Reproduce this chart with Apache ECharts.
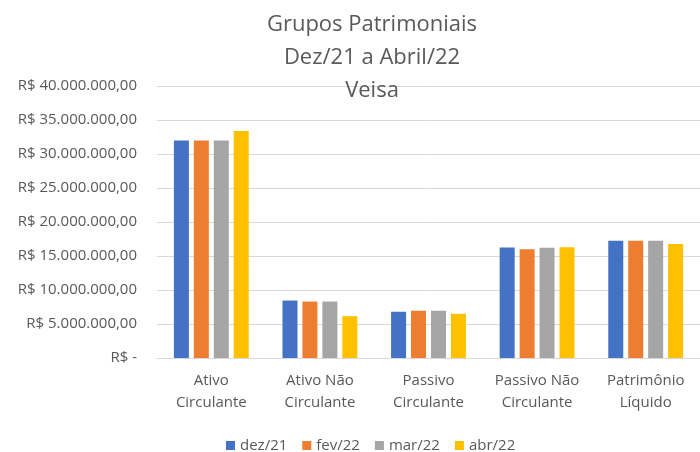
<!DOCTYPE html>
<html>
<head>
<meta charset="utf-8">
<script src="https://cdn.jsdelivr.net/npm/echarts@6/dist/echarts.min.js"></script>
<style>
  html, body { margin: 0; padding: 0; background: #fff; }
  #chart { width: 700px; height: 452px; }
</style>
</head>
<body>
<div id="chart"></div>
<script>
// categorias e valores (R$)
const categories = ['Ativo Circulante', 'Ativo Não Circulante', 'Passivo Circulante', 'Passivo Não Circulante', 'Patrimônio Líquido']
const dez21 = [32000000, 8450000, 6800000, 16250000, 17250000]
const fev22 = [32000000, 8300000, 6950000, 16000000, 17250000]
const mar22 = [32000000, 8300000, 6950000, 16200000, 17250000]
const abr22 = [33400000, 6150000, 6500000, 16300000, 16750000]
const seriesNames = ['dez/21', 'fev/22', 'mar/22', 'abr/22']
const colors = ['#4472C4', '#ED7D31', '#A5A5A5', '#FFC000']

const font = 'Open Sans'
const textColor = '#595959'

// formato contábil brasileiro
const fmtBRL = v => {
  if (v === 0) return 'R$ -'
  const s = Math.round(v).toString().replace(/\B(?=(\d{3})+(?!\d))/g, '.')
  return 'R$ ' + s + ',00'
}

const chart = echarts.init(document.getElementById('chart'))
chart.setOption({
  animation: false,
  color: colors,
  title: {
    text: 'Grupos Patrimoniais\nDez/21 a Abril/22\nVeisa',
    left: 367,
    top: 3,
    textAlign: 'center',
    z: 10,
    textStyle: {
      fontFamily: font,
      fontSize: 22,
      fontWeight: 'normal',
      color: textColor,
      lineHeight: 33
    }
  },
  legend: {
    data: seriesNames,
    top: 433,
    left: 221,
    itemWidth: 9,
    itemHeight: 9,
    itemGap: 15,
    icon: 'rect',
    textStyle: { fontFamily: font, fontSize: 15, color: textColor }
  },
  grid: {
    left: 157,
    right: 0,
    top: 86,
    bottom: 94
  },
  xAxis: {
    type: 'category',
    data: categories,
    axisLine: { lineStyle: { color: '#d9d9d9' } },
    axisTick: { show: false },
    axisLabel: {
      interval: 0,
      margin: 12,
      fontFamily: font,
      fontSize: 15,
      color: textColor,
      lineHeight: 22,
      formatter: v => {
        const i = v.lastIndexOf(' ')
        return v.slice(0, i) + '\n' + v.slice(i + 1)
      }
    }
  },
  yAxis: {
    type: 'value',
    min: 0,
    max: 40000000,
    interval: 5000000,
    axisLine: { show: false },
    axisTick: { show: false },
    splitLine: { lineStyle: { color: '#d9d9d9' } },
    axisLabel: {
      margin: 20,
      fontFamily: font,
      fontSize: 15,
      color: textColor,
      formatter: fmtBRL
    }
  },
  series: [
    { name: seriesNames[0], type: 'bar', data: dez21, barWidth: 15, barGap: '33%' },
    { name: seriesNames[1], type: 'bar', data: fev22, barWidth: 15, barGap: '33%' },
    { name: seriesNames[2], type: 'bar', data: mar22, barWidth: 15, barGap: '33%' },
    { name: seriesNames[3], type: 'bar', data: abr22, barWidth: 15, barGap: '33%' }
  ]
})
</script>
</body>
</html>
